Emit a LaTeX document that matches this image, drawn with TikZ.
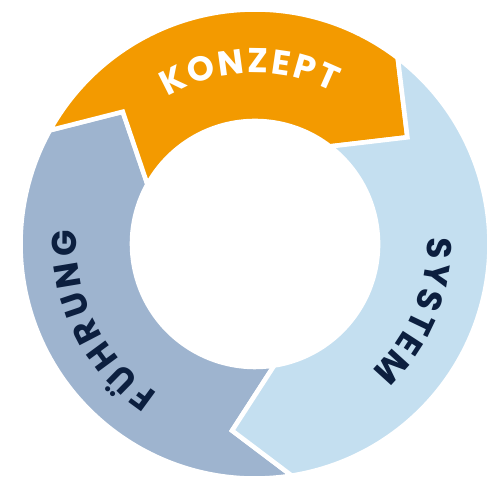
\documentclass[tikz,border=0pt]{standalone}
\usepackage{fontspec}
\newfontfamily\ringfont{Poppins}
\usepackage{tikz}
\usetikzlibrary{decorations.text}
\definecolor{konzeptorange}{HTML}{F39A00}
\definecolor{systemblue}{HTML}{C4DFF0}
\definecolor{fuehrungblue}{HTML}{9EB4CF}
\definecolor{labelnavy}{HTML}{0C1F3F}
\newcommand\labelfont{\ringfont\bfseries\fontsize{9.8}{12}\selectfont}

\begin{document}
\begin{tikzpicture}[scale=0.01,ringpart/.style={draw=white,line width=1.3pt,line join=miter},ringlabel/.style={decorate,decoration={text along path,text align={fit to path},text={|\labelfont|#1}}}]
	\useasboundingbox (0,0) rectangle (500,500);
	\begin{scope}[shift={(255,256)}]
		\filldraw[ringpart,fill=fuehrungblue] (279:234.5) arc[start angle=279,end angle=151,radius=234.5] -- (135:187) -- (151:123) arc[start angle=151,end angle=279,radius=123] -- (263:188) -- cycle;
		\filldraw[ringpart,fill=konzeptorange] (151:234.5) arc[start angle=151,end angle=52.5,radius=234.5] -- (35:186) -- (52.5:123) arc[start angle=52.5,end angle=151,radius=123] -- (135:187) -- cycle;
		\filldraw[ringpart,fill=systemblue] (52.5:234.5) arc[start angle=52.5,end angle=-81,radius=234.5] -- (-97:188) -- (-81:123) arc[start angle=-81,end angle=52.5,radius=123] -- (35:186) -- cycle;
		\path[ringlabel=KONZEPT,decoration={text color=white}] (120.8:171) arc[start angle=120.8,end angle=62.8,radius=171];
		\path[ringlabel=SYSTEM,decoration={text color=labelnavy}] (2.2:172) arc[start angle=2.2,end angle=-47.5,radius=172];
		\path[ringlabel=FÜHRUNG,decoration={text color=labelnavy}] (236.8:178) arc[start angle=236.8,end angle=175.6,radius=178];
	\end{scope}
\end{tikzpicture}
\end{document}
